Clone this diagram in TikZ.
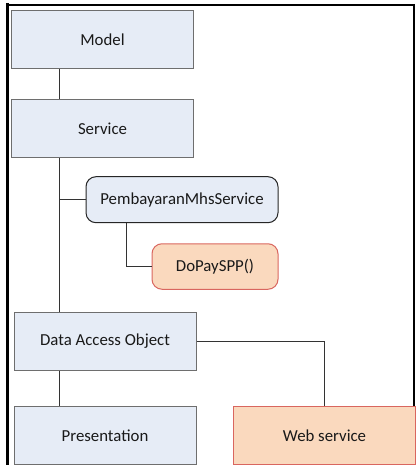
\documentclass[tikz,border=0pt]{standalone}
\usepackage{fontspec}
\setmainfont{Carlito}
\definecolor{bluefill}{HTML}{E6ECF6}
\definecolor{bluedraw}{HTML}{6E6E6E}
\definecolor{peachfill}{HTML}{FAD9BE}
\definecolor{peachdraw}{HTML}{D9665F}
\definecolor{linecol}{HTML}{333333}
\begin{document}
\begin{tikzpicture}[x=1pt,y=-1pt,
  every node/.style={font=\fontsize{16.8}{19}\selectfont, text=black!90, inner sep=0pt},
  bluebox/.style={draw=bluedraw, fill=bluefill, line width=1pt, minimum width=182pt, minimum height=58pt},
  roundbox/.style={draw=black!85, fill=bluefill, line width=1pt, rounded corners=10pt},
  peachround/.style={draw=peachdraw, fill=peachfill, line width=1pt, rounded corners=10pt},
  peachbox/.style={draw=peachdraw, fill=peachfill, line width=1.2pt, minimum width=182pt, minimum height=58pt},
  conn/.style={draw=linecol, line width=1pt},
  frameline/.style={draw=black}]
\useasboundingbox (0,0) rectangle (417,465);
% frame
\draw[frameline, line width=3pt] (7.5,3.5) -- (7.5,466);
\draw[frameline, line width=2pt] (6,5) -- (414,5);
\draw[frameline, line width=1.5pt] (414,4) -- (414,466);
% trunk coordinates
\coordinate (trunk) at (59,0);
\coordinate (ptrunk) at (126,0);
% nodes
\node[bluebox] (model) at (102.5,40) {Model};
\node[bluebox] (service) at (102.5,129) {Service};
\node[roundbox, minimum width=192pt, minimum height=46pt] (pemb) at (182,199.7) {PembayaranMhsService};
\node[peachround, minimum width=126pt, minimum height=45.5pt] (dopay) at (215,266.5) {DoPaySPP()};
\node[bluebox] (dao) at (105,341) {Data Access Object};
\node[bluebox] (pres) at (105,435.5) {Presentation};
\node[peachbox] (web) at (324.5,435.5) {Web service};
% connectors
\draw[conn] (model.south -| trunk) -- (service.north -| trunk);
\draw[conn] (service.south -| trunk) -- (dao.north -| trunk);
\draw[conn] (pemb.west) -- (pemb.west -| trunk);
\draw[conn] (pemb.south -| ptrunk) |- (dopay.west);
\draw[conn] (dao.south -| trunk) -- (pres.north -| trunk);
\draw[conn] (dao.east) -| (web.north);
\end{tikzpicture}
\end{document}
